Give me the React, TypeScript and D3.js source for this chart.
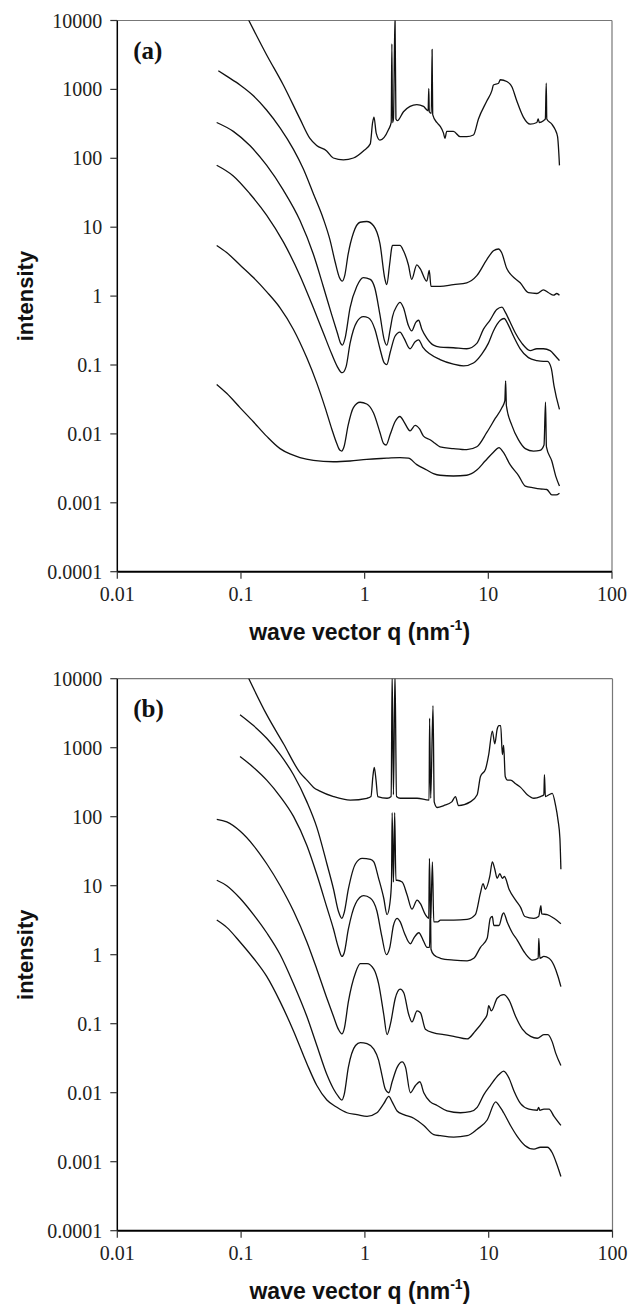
import React from "react";
import * as d3 from "d3";

// ---------- data (q in nm^-1, intensity) ----------
const xTickValues = [0.01, 0.1, 1, 10, 100];
const xTickLabels = ["0.01", "0.1", "1", "10", "100"];
const yTickValues = [1e-4, 1e-3, 1e-2, 1e-1, 1, 10, 100, 1000, 10000];
const yTickLabels = ["0.0001", "0.001", "0.01", "0.1", "1", "10", "100", "1000", "10000"];

// Panel (a)
const A1: [number, number][] = [[0.110,12000],[0.161,3190],[0.220,1160],[0.300,373],[0.361,194],[0.409,153],[0.493,128],[0.558,101],[0.673,95],[0.811,101],[0.977,128],[1.11,162],[1.16,331],[1.19,396],[1.24,232],[1.33,183],[1.56,261],[1.64,331],[1.66,4560],[1.68,331],[1.71,373],[1.76,12000],[1.79,373],[1.84,352],[2.06,474],[2.33,566],[2.64,601],[2.99,566],[3.26,490],[3.30,1030],[3.33,474],[3.46,450],[3.51,3810],[3.55,430],[3.83,331],[4.07,294],[4.34,232],[4.46,194],[4.61,246],[5.22,246],[5.91,206],[6.69,206],[7.58,218],[8.32,373],[9.72,678],[10.7,968],[11.0,1160],[12.1,1230],[12.5,1380],[14.1,1300],[15.5,1090],[17.0,678],[19.2,396],[21.8,313],[24.7,331],[25.3,373],[25.8,331],[27.9,352],[28.9,373],[29.4,1230],[29.7,373],[32.6,313],[34.7,261],[36.3,206],[37.6,79]];
const A2: [number, number][] = [[0.0656,1870],[0.0766,1560],[0.0982,1160],[0.126,809],[0.161,503],[0.207,277],[0.265,136],[0.319,70.5],[0.385,30.6],[0.463,13.3],[0.525,6.5],[0.576,3.18],[0.625,1.86],[0.66,1.65],[0.69,1.98],[0.735,4.04],[0.811,8.26],[0.918,11.8],[1.04,12.1],[1.18,10.5],[1.33,5.78],[1.46,1.75],[1.51,1.47],[1.59,2.83],[1.66,5.13],[1.68,5.44],[1.93,5.44],[2.06,4.55],[2.26,2.83],[2.40,1.75],[2.64,2.83],[2.81,2.51],[3.18,1.65],[3.33,2.36],[3.44,1.38],[3.60,1.38],[4.07,1.38],[5.22,1.47],[6.69,1.56],[8.07,1.98],[9.72,3.38],[11.0,4.55],[12.1,4.83],[12.8,4.29],[14.1,2.51],[15.5,1.98],[18.1,1.56],[21.1,1.12],[24.7,1.09],[27.9,1.23],[30.7,1.12],[33.7,1.03],[35.8,1.09],[37.6,1.03]];
const A3: [number, number][] = [[0.0636,331],[0.0867,246],[0.118,153],[0.161,79.4],[0.220,34.5],[0.300,12.5],[0.385,4.04],[0.463,1.38],[0.542,0.533],[0.601,0.294],[0.640,0.206],[0.66,0.194],[0.695,0.246],[0.762,0.676],[0.863,1.38],[0.977,1.86],[1.11,1.75],[1.21,1.30],[1.33,0.533],[1.44,0.232],[1.51,0.194],[1.61,0.331],[1.68,0.502],[1.82,0.718],[1.93,0.809],[2.06,0.676],[2.26,0.373],[2.40,0.312],[2.60,0.420],[2.73,0.446],[2.90,0.331],[3.18,0.246],[3.60,0.194],[4.07,0.182],[5.22,0.178],[6.69,0.172],[8.07,0.206],[9.14,0.331],[10.3,0.446],[11.7,0.637],[12.9,0.693],[13.6,0.601],[15.0,0.420],[16.5,0.294],[18.7,0.206],[21.8,0.162],[24.7,0.172],[27.9,0.172],[31.6,0.162],[34.7,0.136],[37.6,0.116]];
const A4: [number, number][] = [[0.0636,79.4],[0.0867,55.5],[0.118,30.6],[0.161,15.0],[0.220,6.12],[0.300,1.98],[0.385,0.676],[0.463,0.294],[0.542,0.144],[0.601,0.0948],[0.640,0.0793],[0.66,0.0774],[0.708,0.0948],[0.762,0.206],[0.863,0.420],[0.977,0.502],[1.07,0.485],[1.21,0.331],[1.33,0.172],[1.44,0.107],[1.51,0.101],[1.61,0.153],[1.76,0.261],[1.93,0.301],[2.08,0.246],[2.33,0.172],[2.56,0.218],[2.73,0.232],[2.95,0.182],[3.38,0.144],[4.07,0.120],[5.22,0.103],[6.3,0.097],[7.58,0.107],[8.85,0.144],[10.0,0.206],[11.0,0.312],[12.5,0.446],[13.4,0.473],[14.6,0.373],[16.0,0.261],[18.1,0.172],[21.1,0.128],[24.7,0.116],[27.9,0.113],[30.1,0.113],[32.3,0.0893],[34.0,0.0492],[37.6,0.0227]];
const A5: [number, number][] = [[0.0636,5.44],[0.0766,4.29],[0.0982,2.83],[0.126,1.86],[0.161,1.16],[0.207,0.676],[0.265,0.331],[0.340,0.128],[0.409,0.0555],[0.479,0.0241],[0.542,0.0118],[0.594,0.00731],[0.632,0.00577],[0.652,0.00564],[0.681,0.0065],[0.735,0.0133],[0.811,0.0241],[0.918,0.0288],[1.04,0.0272],[1.18,0.0201],[1.33,0.0105],[1.42,0.00731],[1.49,0.0069],[1.61,0.00986],[1.76,0.0150],[1.93,0.0179],[2.08,0.0150],[2.33,0.0111],[2.56,0.0133],[2.78,0.0118],[2.99,0.00929],[3.38,0.00824],[3.7,0.00731],[4.07,0.0065],[5.22,0.00612],[6.69,0.0059],[8.07,0.0065],[9.72,0.0105],[11.4,0.0169],[12.9,0.0241],[13.6,0.0305],[13.8,0.0589],[14.0,0.0256],[15.5,0.0133],[17.5,0.00824],[19.9,0.00612],[23.2,0.00564],[26.2,0.00577],[28.2,0.0069],[29.0,0.0288],[29.5,0.0065],[32.6,0.00404],[35.3,0.00236],[37.6,0.00175]];
const A6: [number, number][] = [[0.0636,0.0522],[0.0766,0.0388],[0.0982,0.0241],[0.126,0.0150],[0.161,0.00929],[0.207,0.00612],[0.249,0.00512],[0.300,0.00454],[0.385,0.00413],[0.558,0.00394],[0.762,0.00404],[1.04,0.00428],[1.51,0.00444],[1.93,0.00454],[2.26,0.00444],[2.64,0.00358],[3.18,0.00299],[3.60,0.00266],[4.07,0.00251],[5.22,0.00245],[6.69,0.00251],[8.07,0.00299],[9.42,0.00404],[11.0,0.00543],[12.2,0.00634],[13.2,0.00543],[15.0,0.00358],[17.5,0.00251],[19.9,0.00175],[23.2,0.00165],[26.2,0.00159],[29.7,0.00156],[32.6,0.0013],[35.3,0.0013],[37.6,0.00138]];

// Panel (b)
const B1: [number, number][] = [[0.110,12000],[0.161,3010],[0.220,1140],[0.300,432],[0.340,339],[0.385,266],[0.433,235],[0.558,196],[0.762,174],[1.04,185],[1.12,196],[1.16,383],[1.19,518],[1.23,339],[1.27,196],[1.51,185],[1.63,196],[1.66,12000],[1.70,208],[1.75,12000],[1.80,196],[1.93,185],[2.64,185],[3.30,174],[3.33,2670],[3.40,185],[3.55,4070],[3.63,164],[3.83,136],[4.34,145],[5.03,164],[5.39,196],[5.7,145],[7.1,164],[8.07,208],[8.58,383],[9.42,487],[10.0,792],[10.7,1740],[11.2,1140],[11.7,1850],[12.1,2090],[12.5,2090],[12.9,792],[13.2,1080],[13.6,383],[14.2,339],[15.0,339],[16.5,300],[18.1,266],[20.5,208],[23.2,185],[26.2,196],[27.9,208],[28.2,406],[28.7,196],[30.7,208],[32.6,218],[34.7,145],[36.3,89.2],[37.6,48.6],[38.3,17.3]];
const B2: [number, number][] = [[0.098,3010],[0.126,2090],[0.161,1370],[0.207,792],[0.265,406],[0.340,164],[0.409,70.0],[0.493,20.8],[0.558,8.89],[0.61,4.30],[0.652,3.37],[0.68,4.05],[0.735,8.89],[0.84,20.8],[0.95,24.9],[1.11,24.0],[1.18,22.1],[1.29,12.8],[1.42,6.58],[1.51,3.81],[1.59,5.48],[1.64,11.3],[1.66,114],[1.70,11.3],[1.74,114],[1.78,12.0],[1.82,12.0],[2.0,11.3],[2.19,7.41],[2.40,4.57],[2.64,6.18],[2.81,5.48],[3.08,3.81],[3.28,3.37],[3.32,24.9],[3.40,3.37],[3.51,22.1],[3.60,2.99],[3.88,2.99],[4.07,3.18],[5.22,3.18],[6.69,3.25],[7.8,3.81],[8.58,7.88],[9.0,10.7],[9.4,8.89],[10.2,13.6],[10.7,22.1],[11.2,17.3],[11.7,12.8],[12.3,14.9],[12.9,12.8],[13.4,13.6],[14.6,8.89],[16.5,6.18],[18.1,4.85],[19.6,3.58],[23.2,3.37],[25.3,3.58],[26.4,5.15],[26.8,3.90],[29.7,3.81],[33.7,3.37],[38.3,2.81]];
const B3: [number, number][] = [[0.098,745],[0.126,518],[0.161,339],[0.207,196],[0.265,101],[0.340,38.2],[0.409,14.5],[0.493,4.85],[0.558,2.34],[0.61,1.28],[0.652,0.944],[0.68,1.06],[0.735,2.34],[0.84,5.48],[0.977,7.16],[1.11,6.58],[1.25,4.30],[1.37,1.84],[1.49,1.00],[1.59,1.28],[1.70,2.65],[1.82,3.37],[1.93,2.99],[2.08,2.08],[2.33,1.44],[2.48,1.73],[2.73,2.08],[2.95,1.63],[3.18,1.28],[3.33,1.28],[3.38,6.98],[3.42,1.2],[3.60,1.00],[4.07,0.888],[5.22,0.835],[6.69,0.816],[7.58,0.888],[8.58,1.28],[9.72,1.73],[10.3,3.37],[10.7,3.58],[11.0,2.65],[12.1,2.65],[12.9,3.81],[13.2,4.05],[14.1,2.99],[15.5,2.08],[17.0,1.63],[19.6,1.06],[22.6,0.835],[25.1,0.888],[25.4,1.73],[25.9,0.888],[27.9,0.944],[30.7,0.888],[33.7,0.697],[36.3,0.484],[38.3,0.344]];
const B4: [number, number][] = [[0.0636,91.4],[0.0766,83.9],[0.098,61.9],[0.126,38.2],[0.161,20.8],[0.207,10.0],[0.265,4.30],[0.340,1.53],[0.409,0.617],[0.493,0.234],[0.558,0.127],[0.61,0.0834],[0.652,0.0711],[0.68,0.0834],[0.735,0.207],[0.84,0.547],[0.918,0.740],[1.04,0.740],[1.18,0.617],[1.29,0.380],[1.42,0.136],[1.51,0.0695],[1.61,0.100],[1.76,0.234],[1.93,0.316],[2.06,0.281],[2.26,0.136],[2.40,0.106],[2.64,0.153],[2.81,0.144],[3.08,0.0834],[3.60,0.0738],[4.34,0.0695],[5.22,0.0655],[6.69,0.0601],[7.8,0.0785],[9.14,0.113],[9.72,0.136],[10.0,0.183],[10.5,0.153],[11.7,0.234],[13.2,0.264],[14.6,0.220],[16.5,0.127],[18.7,0.0834],[21.8,0.0655],[24.7,0.0615],[27.9,0.0695],[30.1,0.0695],[32.6,0.0545],[34.7,0.0378],[38.3,0.0248]];
const B5: [number, number][] = [[0.0636,12.0],[0.0766,10.0],[0.098,6.58],[0.126,3.81],[0.161,2.08],[0.207,1.00],[0.265,0.380],[0.340,0.127],[0.409,0.0483],[0.493,0.0183],[0.558,0.0113],[0.61,0.00883],[0.652,0.00783],[0.68,0.00939],[0.735,0.0233],[0.84,0.0483],[0.918,0.0532],[1.04,0.0513],[1.18,0.0428],[1.29,0.0297],[1.37,0.0183],[1.46,0.0113],[1.56,0.00998],[1.66,0.0144],[1.82,0.0233],[2.0,0.0280],[2.13,0.0233],[2.33,0.00998],[2.56,0.0127],[2.78,0.0144],[2.99,0.00998],[3.38,0.00736],[3.83,0.00653],[4.61,0.00544],[5.91,0.00512],[7.1,0.00531],[8.07,0.00614],[9.14,0.00939],[10.3,0.0127],[12.1,0.0183],[13.2,0.0206],[14.6,0.0162],[16.0,0.0106],[18.1,0.00693],[21.1,0.00578],[24.7,0.00557],[25.3,0.00614],[25.9,0.00557],[27.9,0.00578],[30.7,0.00578],[33.7,0.00454],[38.3,0.00335]];
const B6: [number, number][] = [[0.0636,3.18],[0.0766,2.49],[0.098,1.53],[0.126,0.888],[0.161,0.484],[0.207,0.207],[0.265,0.0785],[0.340,0.0263],[0.409,0.0127],[0.493,0.00783],[0.594,0.00614],[0.716,0.00512],[0.863,0.00482],[1.04,0.00454],[1.25,0.00512],[1.42,0.00693],[1.56,0.00883],[1.66,0.00736],[1.82,0.00544],[2.06,0.00482],[2.48,0.00427],[2.99,0.00335],[3.60,0.00247],[4.07,0.00238],[5.22,0.00227],[6.69,0.00238],[8.07,0.00296],[9.72,0.00402],[11.4,0.00736],[12.1,0.00653],[13.2,0.00512],[15.0,0.00335],[17.0,0.00233],[19.6,0.00172],[23.2,0.00152],[26.2,0.00162],[29.7,0.00162],[32.6,0.00135],[35.8,0.00088],[38.3,0.00061]];

const panelA = [A1, A2, A3, A4, A5, A6];
const panelB = [B1, B2, B3, B4, B5, B6];

const SERIF = "'Liberation Serif', 'Times New Roman', serif";
const SANS = "'Liberation Sans', Arial, Helvetica, sans-serif";

type PanelProps = {
  id: string;
  label: string;
  series: [number, number][][];
  top: number;
  bottom: number;
  left: number;
  right: number;
};

function Panel({ id, label, series, top, bottom, left, right }: PanelProps) {
  const x = d3.scaleLog().domain([0.01, 100]).range([left, right]);
  const y = d3.scaleLog().domain([1e-4, 1e4]).range([bottom, top]);
  const line = d3
    .line<[number, number]>()
    .x((d) => x(d[0]))
    .y((d) => y(d[1]))
    .curve(d3.curveMonotoneX);
  const midX = (left + right) / 2 - 5;
  const midY = (top + bottom) / 2;
  return (
    <g>
      <defs>
        <clipPath id={`clip-${id}`}>
          <rect x={left} y={top} width={right - left} height={bottom - top} />
        </clipPath>
      </defs>
      <line x1={left} x2={right} y1={top} y2={top} stroke="#777" strokeWidth={1.2} />
      <line x1={right} x2={right} y1={top} y2={bottom} stroke="#777" strokeWidth={1.2} />
      <g clipPath={`url(#clip-${id})`}>
        {series.map((s, i) => (
          <path key={i} d={line(s) || ""} fill="none" stroke="#111" strokeWidth={1.3} strokeLinejoin="round" />
        ))}
      </g>
      <line x1={left} x2={left} y1={top} y2={bottom} stroke="#000" strokeWidth={1.5} />
      {yTickValues.map((v, i) => (
        <g key={`y${i}`}>
          <line x1={left - 7} x2={left} y1={y(v)} y2={y(v)} stroke="#333" strokeWidth={1.2} />
          <text x={left - 15} y={y(v) + 7} textAnchor="end" fontFamily={SERIF} fontSize={20} fill="#222">
            {yTickLabels[i]}
          </text>
        </g>
      ))}
      <line x1={left} x2={right} y1={bottom} y2={bottom} stroke="#000" strokeWidth={2} />
      {xTickValues.map((v, i) => (
        <g key={`x${i}`}>
          <line x1={x(v)} x2={x(v)} y1={bottom} y2={bottom + 7} stroke="#333" strokeWidth={1.2} />
          <text x={x(v)} y={bottom + 29} textAnchor="middle" fontFamily={SERIF} fontSize={20} fill="#222">
            {xTickLabels[i]}
          </text>
        </g>
      ))}
      <text x={midX} y={bottom + 68} textAnchor="middle" fontFamily={SANS} fontWeight="bold" fontSize={23} fill="#111">
        wave vector q (nm
        <tspan fontSize={14} dy={-10}>-1</tspan>
        <tspan dy={10}>)</tspan>
      </text>
      <text
        transform={`translate(33, ${midY}) rotate(-90)`}
        textAnchor="middle"
        fontFamily={SANS}
        fontWeight="bold"
        fontSize={22}
        fill="#111"
      >
        intensity
      </text>
      <text x={left + 16} y={top + 38} fontFamily={SERIF} fontWeight="bold" fontSize={25} fill="#111">
        {label}
      </text>
    </g>
  );
}

export default function App() {
  return (
    <div style={{ position: "absolute", left: 0, top: 0 }}>
      <svg width={629} height={1309} style={{ display: "block", background: "#fff" }}>
        <Panel id="a" label="(a)" series={panelA} top={20.5} bottom={571.7} left={117.3} right={612} />
        <Panel id="b" label="(b)" series={panelB} top={678.7} bottom={1230.7} left={117.3} right={612.5} />
      </svg>
    </div>
  );
}
